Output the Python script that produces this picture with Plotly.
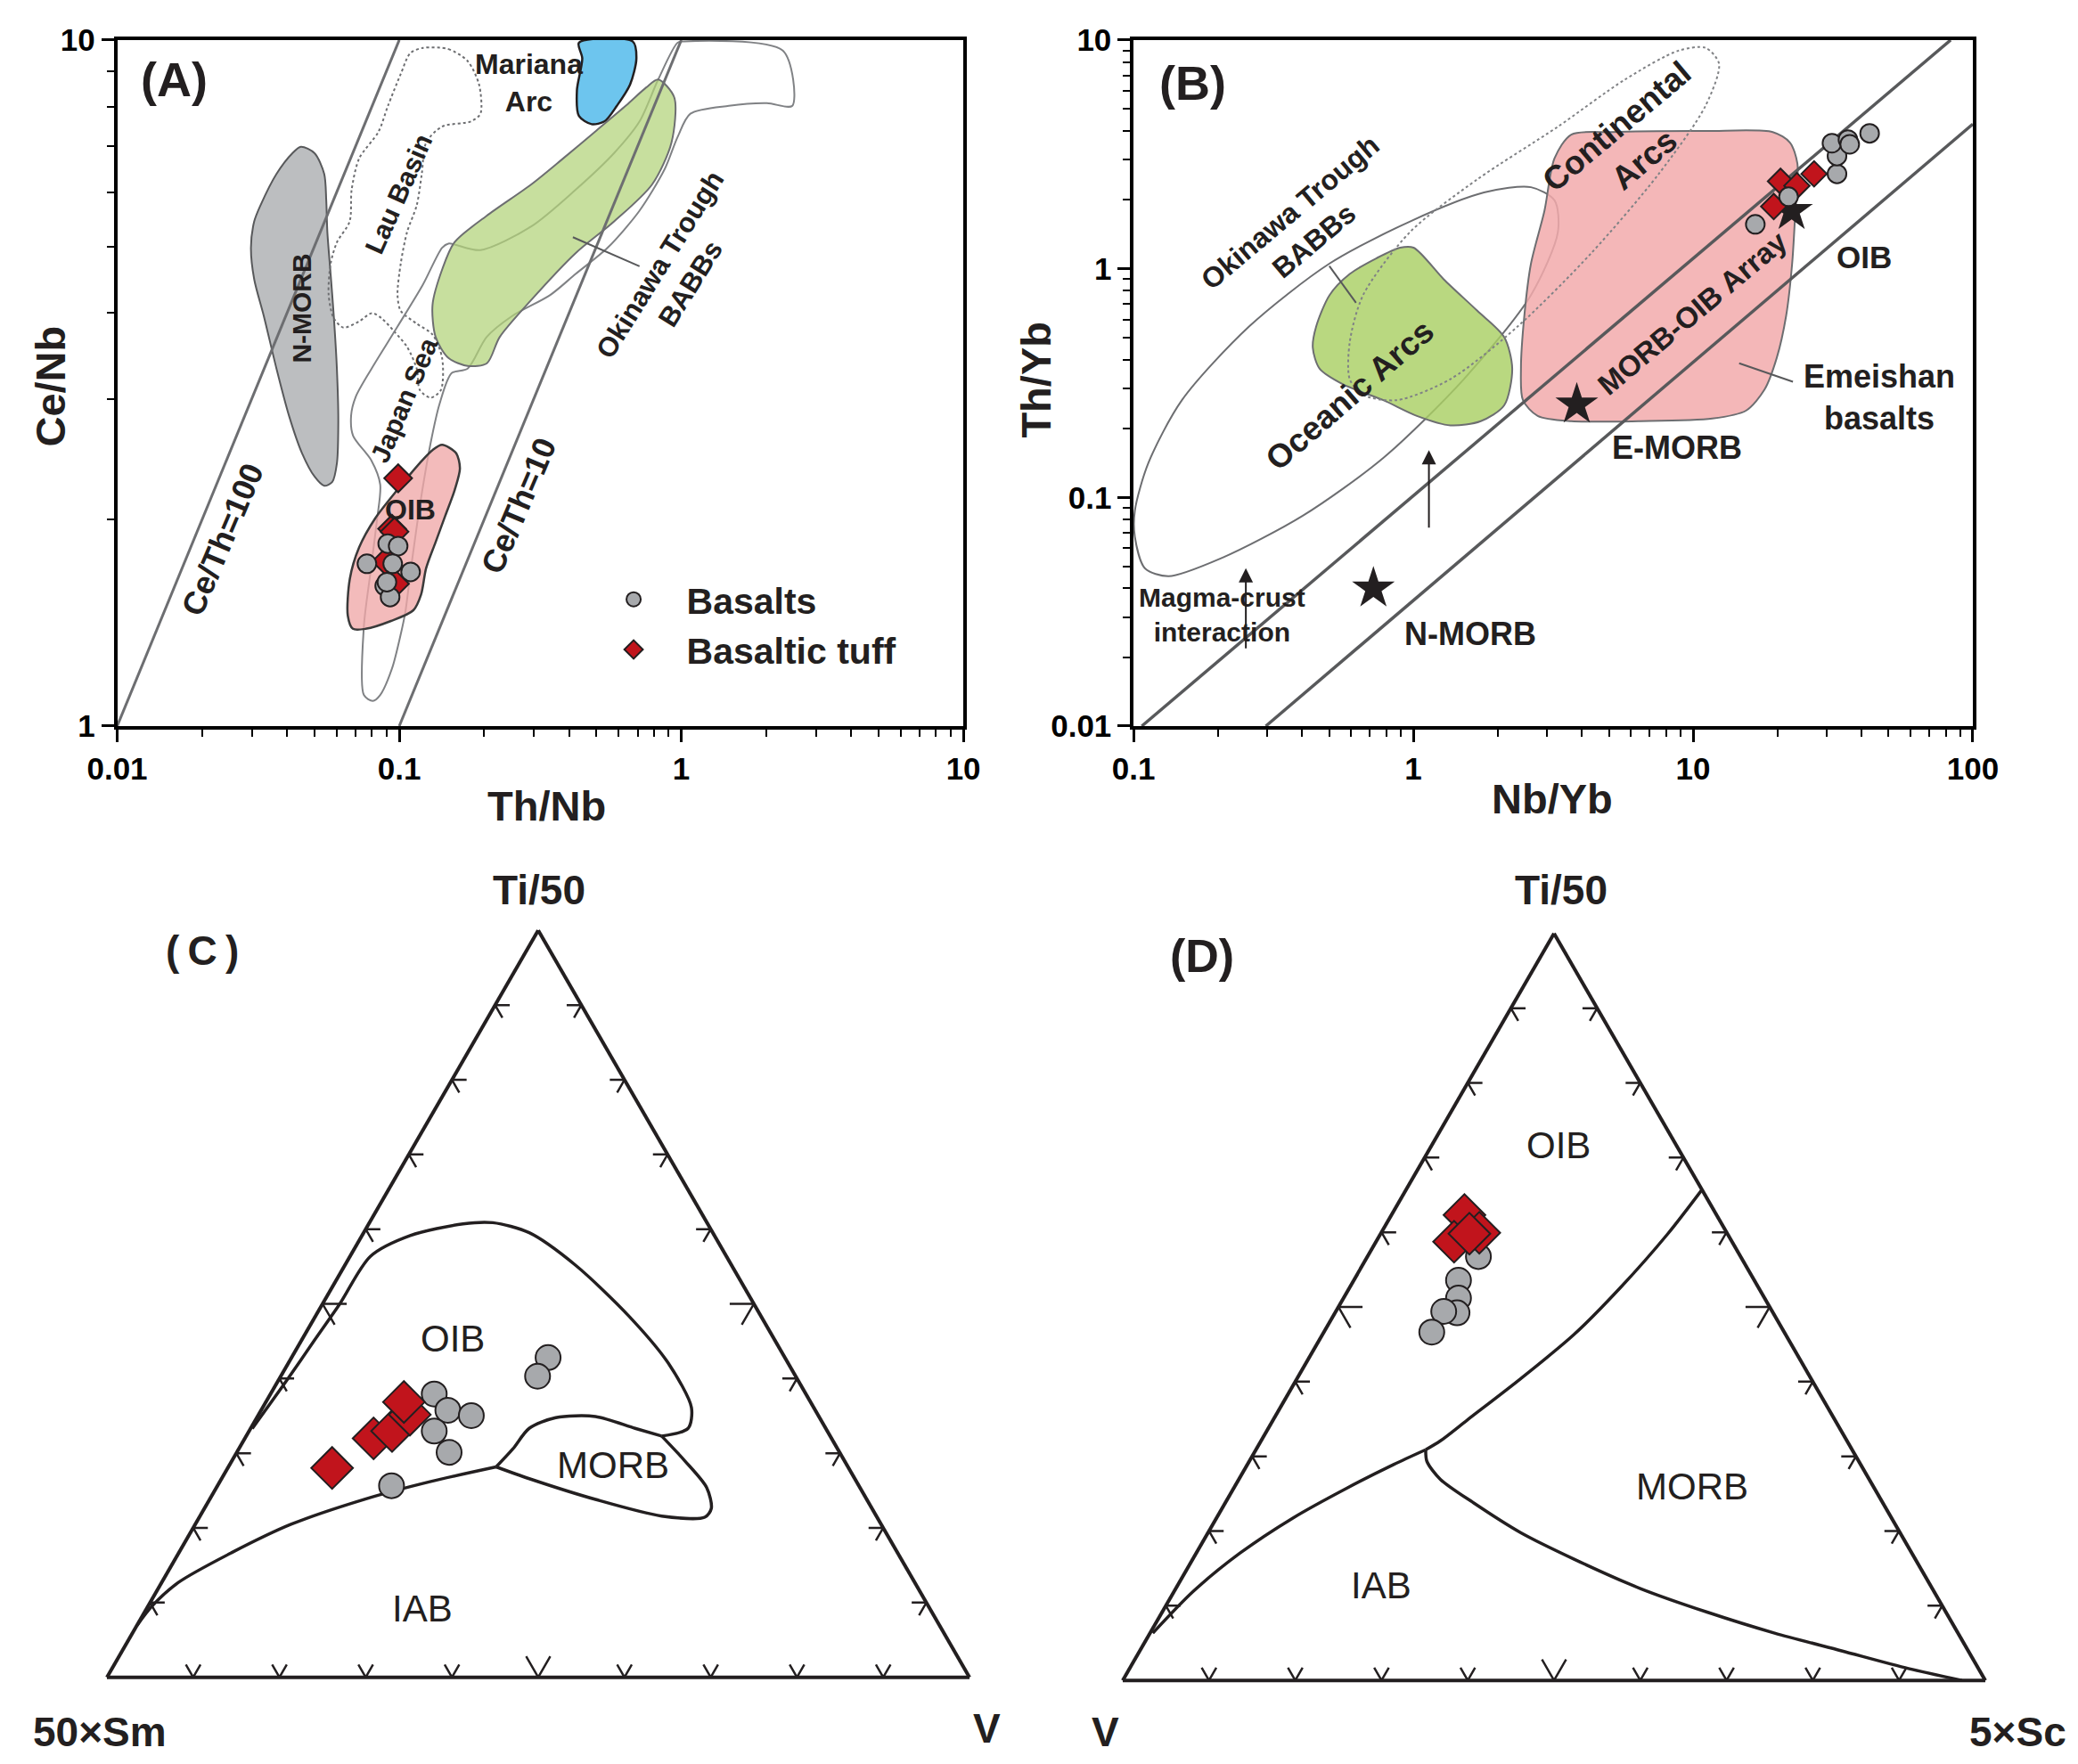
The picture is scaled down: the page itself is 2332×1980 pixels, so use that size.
import numpy as np
import plotly.graph_objects as go

W, H = 2332, 1980
FN = "Liberation Sans Narrow, Arial Narrow, Liberation Sans, Arial, sans-serif"
FR = "Liberation Sans, Arial, sans-serif"
INK = "#231f20"

# ---------------- Panel A : Th/Nb vs Ce/Nb ----------------
nmorb_a_x = [0.0448, 0.0501, 0.0542, 0.0551, 0.0556, 0.0571, 0.0586, 0.0601, 0.0608, 0.0601, 0.0579, 0.0542,
             0.0501, 0.0452, 0.0407, 0.0367, 0.0331, 0.0306, 0.0298, 0.0306, 0.0322, 0.0367, 0.0418]
nmorb_a_y = [6.99, 6.84, 6.38, 5.84, 5.25, 4.56, 3.96, 3.32, 2.78, 2.415, 2.27, 2.24,
             2.31, 2.50, 2.83, 3.32, 3.96, 4.48, 4.98, 5.44, 5.74, 6.38, 6.84]
lau_x = [0.1214, 0.1495, 0.1747, 0.1919, 0.1940, 0.1794, 0.1419, 0.1246, 0.1202, 0.1153, 0.1066, 0.1012, 0.0986,
         0.1012, 0.1153, 0.1313, 0.1419, 0.1405, 0.1292, 0.1183, 0.1153, 0.1066, 0.0960, 0.0866, 0.0801, 0.0721,
         0.0634, 0.0586, 0.0562, 0.0571, 0.0601, 0.0667, 0.0678, 0.0721, 0.0844, 0.0912, 0.1012, 0.1094]
lau_y = [9.74, 9.70, 9.32, 8.61, 7.81, 7.61, 7.48, 7.09, 6.38, 5.74, 5.25, 4.72, 4.25,
         4.03, 3.86, 3.72, 3.44, 3.09, 3.01, 3.09, 3.32, 3.57, 3.76, 3.93, 4.00, 3.89,
         3.81, 3.93, 4.25, 4.72, 5.07, 5.44, 6.05, 6.72, 7.35, 8.02, 8.92, 9.57]
japan_x = [0.0806, 0.0749, 0.0749, 0.079, 0.0834, 0.0856, 0.0796, 0.0686, 0.0675, 0.0701, 0.0798, 0.0985,
           0.1213, 0.1419, 0.1494, 0.1938, 0.2938, 0.4218, 0.577, 0.711, 0.828, 0.970, 1.023, 2.290, 2.476,
           2.012, 1.474, 1.077, 0.970, 0.874, 0.711, 0.548, 0.4218, 0.343, 0.2513, 0.204, 0.1748, 0.1534,
           0.139, 0.1293, 0.1182, 0.1095, 0.1051, 0.1015, 0.0943, 0.0856]
japan_y = [1.088, 1.110, 1.396, 1.672, 2.00, 2.25, 2.44, 2.65, 2.835, 3.02, 3.32, 3.82,
           4.40, 4.98, 5.05, 4.94, 5.35, 6.05, 6.84, 7.61, 8.76, 9.91, 9.955, 9.65, 8.02,
           8.09, 8.02, 7.81, 7.22, 6.49, 5.64, 4.98, 4.56, 4.25, 3.96, 3.69, 3.32, 3.27,
           2.95, 2.59, 2.09, 1.672, 1.467, 1.368, 1.214, 1.110]
mariana_x = [0.4335, 0.673, 0.693, 0.658, 0.591, 0.534, 0.481, 0.4335, 0.4265, 0.4455]
mariana_y = [9.91, 9.95, 9.40, 8.61, 8.02, 7.61, 7.54, 7.75, 8.45, 9.40]
okinawa_a_x = [0.828, 0.944, 0.923, 0.788, 0.578, 0.4218, 0.2938, 0.227, 0.2046, 0.1748, 0.1494, 0.1346,
               0.1312, 0.1422, 0.1568, 0.2036, 0.2938, 0.381, 0.494, 0.6376, 0.751]
okinawa_a_y = [8.76, 8.25, 7.09, 6.16, 5.44, 4.89, 4.18, 3.69, 3.38, 3.35, 3.44, 3.69,
               4.11, 4.64, 5.07, 5.54, 6.16, 6.72, 7.35, 8.03, 8.53]
oib_a_x = [0.1419, 0.159, 0.1641, 0.1573, 0.1456, 0.1346, 0.1245, 0.1195, 0.1122, 0.0935, 0.076, 0.0685,
           0.0657, 0.0668, 0.0721, 0.0821, 0.0985, 0.1182, 0.1312]
oib_a_y = [2.57, 2.50, 2.375, 2.21, 2.026, 1.855, 1.698, 1.555, 1.475, 1.423, 1.386, 1.386,
           1.449, 1.639, 1.822, 2.007, 2.21, 2.417, 2.525]
cth100_x, cth100_y = [0.01, 0.1], [1, 10]
cth10_x, cth10_y = [0.1, 1], [1, 10]
leader_a_x, leader_a_y = [0.4127, 0.711], [5.16, 4.68]
bas_a_x = [0.0910, 0.0991, 0.0768, 0.0948, 0.1097, 0.0888, 0.0928, 0.0904]
bas_a_y = [1.845, 1.830, 1.724, 1.724, 1.678, 1.601, 1.542, 1.621]
tuff_a_x = [0.0991, 0.0943, 0.0962, 0.0899, 0.0966]
tuff_a_y = [2.297, 1.939, 1.92, 1.738, 1.612]

# ---------------- Panel B : Nb/Yb vs Th/Yb ----------------
ell_x = [0.1011, 0.1099, 0.1333, 0.2074, 0.4025, 0.781, 1.516, 2.634, 3.287, 3.197, 2.634, 1.789, 0.974,
         0.502, 0.2587, 0.1489, 0.1129, 0.1011]
ell_y = [0.0672, 0.0489, 0.0452, 0.0544, 0.0831, 0.1488, 0.329, 0.767, 1.448, 1.99, 2.272, 2.154, 1.61,
         1.054, 0.5586, 0.2662, 0.1411, 0.0876]
cont_x = [0.5925, 0.6616, 0.8723, 1.357, 2.359, 4.332, 7.53, 11.08, 12.38, 11.08, 8.89, 5.711, 3.287,
          1.693, 0.974, 0.6616, 0.5925]
cont_y = [0.329, 0.2807, 0.2662, 0.329, 0.5586, 1.172, 2.593, 5.16, 7.88, 9.24, 8.995, 6.72, 4.18,
          2.459, 1.448, 0.767, 0.4767]
ocean_x = [0.897, 1.002, 1.284, 1.693, 2.112, 2.257, 2.112, 1.741, 1.357, 1.030, 0.781, 0.5607, 0.462,
           0.4372, 0.4495, 0.502, 0.5925, 0.739]
ocean_y = [1.236, 1.236, 0.8995, 0.6549, 0.5025, 0.3659, 0.2525, 0.2154, 0.2065, 0.2272, 0.2662, 0.312,
           0.3659, 0.4519, 0.5586, 0.767, 0.9484, 1.112]
emei_x = [3.67, 5.112, 11.08, 19.26, 22.2, 23.6, 23.2, 22.6, 21.5, 19.9, 18.0, 15.44, 11.71, 6.378,
          3.67, 2.784, 2.465, 2.425, 2.493, 2.634, 2.942, 3.197]
emei_y = [3.86, 3.96, 4.00, 3.96, 3.56, 2.88, 1.79, 1.054, 0.621, 0.4067, 0.2961, 0.2394, 0.2212, 0.2154,
          0.2154, 0.2272, 0.2662, 0.3659, 0.621, 1.054, 1.79, 3.04]
arr_up_x, arr_up_y = [0.107, 83.3], [0.01, 10]
arr_lo_x, arr_lo_y = [0.297, 100], [0.01, 4.29]
star_x = [0.72, 3.84, 22.5]
star_y = [0.04, 0.255, 1.79]
leader_b1_x, leader_b1_y = [0.501, 0.624], [1.027, 0.709]
leader_b2_x, leader_b2_y = [14.61, 22.75], [0.3858, 0.3205]
arrow1_x, arrow1_tail_y, arrow1_head_y = 0.252, 0.0216, 0.049
arrow2_x, arrow2_tail_y, arrow2_head_y = 1.137, 0.0728, 0.161
bas_b_x = [16.69, 21.94, 32.69, 32.69, 31.36, 35.77, 36.3, 42.76]
bas_b_y = [1.563, 2.064, 2.599, 3.11, 3.54, 3.67, 3.50, 3.91]
tuff_b_x = [20.54, 23.50, 27.07, 19.42]
tuff_b_y = [2.412, 2.307, 2.599, 1.871]

# ---------------- Panel C : Ti/50 - 50xSm - V ----------------
c_oib_a = [0.333, 0.40, 0.452, 0.50, 0.5635, 0.5913, 0.6071, 0.6087, 0.5952, 0.5516, 0.4841, 0.4206, 0.3611, 0.3333, 0.323]
c_oib_b = [0.665, 0.59, 0.533, 0.48, 0.4128, 0.3528, 0.2836, 0.2483, 0.2128, 0.1808, 0.1532, 0.1389, 0.1418, 0.1596, 0.1954]
c_oib_c = [0.002, 0.01, 0.015, 0.02, 0.0237, 0.0559, 0.1093, 0.143, 0.192, 0.2676, 0.3627, 0.4405, 0.4971, 0.5071, 0.4816]
c_morb_lo_a = [0.323, 0.2897, 0.254, 0.2262, 0.2143, 0.2159, 0.2381, 0.2659, 0.2817]
c_morb_lo_b = [0.1954, 0.1851, 0.1777, 0.1862, 0.1998, 0.2489, 0.3145, 0.3774, 0.4079]
c_morb_lo_c = [0.4816, 0.5252, 0.5683, 0.5876, 0.5859, 0.5352, 0.4474, 0.3567, 0.3104]
c_morb_up_a = [0.2817, 0.3056, 0.3333, 0.3476, 0.3492, 0.3333, 0.323]
c_morb_up_b = [0.4079, 0.3767, 0.3438, 0.3059, 0.259, 0.221, 0.1954]
c_morb_up_c = [0.3104, 0.3177, 0.3229, 0.3465, 0.3918, 0.4457, 0.4816]
c_iab_a = [0.2817, 0.2619, 0.2381, 0.2048, 0.1667, 0.127, 0.0952, 0.0698]
c_iab_b = [0.4079, 0.4946, 0.5831, 0.6842, 0.7723, 0.8536, 0.9002, 0.93]
c_iab_c = [0.3104, 0.2435, 0.1788, 0.111, 0.061, 0.0194, 0.0046, 0.0002]
c_bas_a = [0.4281, 0.4031, 0.3793, 0.3575, 0.3504, 0.3297, 0.3012, 0.2565]
c_bas_b = [0.2745, 0.2992, 0.4309, 0.426, 0.4024, 0.4557, 0.4527, 0.5418]
c_bas_c = [0.2974, 0.2977, 0.1898, 0.2165, 0.2473, 0.2146, 0.2461, 0.2017]
c_tuff_a = [0.2803, 0.3199, 0.3297, 0.3516, 0.3686]
c_tuff_b = [0.5988, 0.5309, 0.5046, 0.473, 0.4714]
c_tuff_c = [0.1209, 0.1492, 0.1657, 0.1754, 0.16]

# ---------------- Panel D : Ti/50 - V - 5xSc ----------------
d_om_a = [0.657, 0.5978, 0.5265, 0.4632, 0.4038, 0.3484, 0.3207, 0.3088]
d_om_b = [0.0, 0.0693, 0.1593, 0.2451, 0.3369, 0.4266, 0.4714, 0.4944]
d_om_c = [0.343, 0.3329, 0.3142, 0.2917, 0.2593, 0.225, 0.2079, 0.1968]
d_iab_a = [0.0633, 0.1188, 0.1702, 0.2177, 0.2573, 0.289, 0.3088]
d_iab_b = [0.9335, 0.8592, 0.7792, 0.6935, 0.6117, 0.5415, 0.4944]
d_iab_c = [0.0032, 0.022, 0.0506, 0.0888, 0.131, 0.1695, 0.1968]
d_im_a = [0.3088, 0.293, 0.2692, 0.2375, 0.1979, 0.1623, 0.1227, 0.0911, 0.0633, 0.0396, 0.0158, 0.0]
d_im_b = [0.4944, 0.5008, 0.4972, 0.4743, 0.4399, 0.3956, 0.3379, 0.2762, 0.2126, 0.1469, 0.0812, 0.0271]
d_im_c = [0.1968, 0.2062, 0.2336, 0.2882, 0.3622, 0.4421, 0.5394, 0.6327, 0.7241, 0.8135, 0.903, 0.9729]
d_bas_a = [0.5675, 0.5357, 0.5119, 0.4921, 0.494, 0.4663]
d_bas_b = [0.3039, 0.3429, 0.3548, 0.3664, 0.3809, 0.4086]
d_bas_c = [0.1286, 0.1214, 0.1333, 0.1415, 0.1251, 0.1251]
d_tuff_a = [0.6231, 0.5874, 0.5993, 0.5973]
d_tuff_b = [0.2923, 0.3222, 0.287, 0.2987]
d_tuff_c = [0.0846, 0.0904, 0.1137, 0.1027]

# ternary tick positions (fraction along each side) and chevron lengths
tern_ticks = [0.1, 0.2, 0.3, 0.4, 0.5, 0.6, 0.7, 0.8, 0.9]
tick_len_small, tick_len_mid = 0.017, 0.028

GRAY_PT = "#a7a9ac"
RED_PT = "#c1141c"


def closed(v):
    return list(v) + [v[0]]


fig = go.Figure()


def poly(x, y, ax, fill=None, line="#6d6e71", width=2.2, dash="solid"):
    fig.add_trace(go.Scatter(
        x=closed(x), y=closed(y), mode="lines", xaxis=ax[0], yaxis=ax[1],
        fill="toself" if fill else None, fillcolor=fill,
        line=dict(color=line, width=width, dash=dash, shape="spline", smoothing=0.8),
        hoverinfo="skip", showlegend=False))


def line(x, y, ax, color="#6d6e71", width=3):
    fig.add_trace(go.Scatter(x=x, y=y, mode="lines", xaxis=ax[0], yaxis=ax[1],
                             line=dict(color=color, width=width), hoverinfo="skip", showlegend=False))


A = ("x", "y")
B = ("x2", "y2")

# Panel A fields
poly(nmorb_a_x, nmorb_a_y, A, fill="#bcbec0", line="#58595b", width=2)
poly(lau_x, lau_y, A, line="#6d6e71", width=2, dash="dot")
poly(japan_x, japan_y, A, line="#808285", width=2)
poly(mariana_x, mariana_y, A, fill="#6dc5ee", line=INK, width=2.5)
poly(okinawa_a_x, okinawa_a_y, A, fill="rgba(178,210,120,0.72)", line="#6d6e71", width=2)
poly(oib_a_x, oib_a_y, A, fill="rgba(240,168,168,0.78)", line="#3a3a3a", width=2.5)
line(cth100_x, cth100_y, A)
line(cth10_x, cth10_y, A)
line(leader_a_x, leader_a_y, A, color="#58595b", width=2)

mk_c = dict(symbol="circle", size=21, color=GRAY_PT, line=dict(color=INK, width=2))
mk_d = dict(symbol="diamond", size=24, color=RED_PT, line=dict(color=INK, width=2))
fig.add_trace(go.Scatter(x=tuff_a_x, y=tuff_a_y, mode="markers", xaxis="x", yaxis="y", marker=mk_d,
                         name="Basaltic tuff", legendrank=2, showlegend=True))
fig.add_trace(go.Scatter(x=bas_a_x, y=bas_a_y, mode="markers", xaxis="x", yaxis="y", marker=mk_c,
                         name="Basalts", legendrank=1, showlegend=True))

# Panel B fields
poly(ell_x, ell_y, B, line="#6d6e71", width=2)
poly(ocean_x, ocean_y, B, fill="rgba(170,208,100,0.82)", line="#6d6e71", width=2)
poly(emei_x, emei_y, B, fill="rgba(242,170,172,0.85)", line="#6d6e71", width=2)
poly(cont_x, cont_y, B, line="#808285", width=2, dash="dot")
line(arr_up_x, arr_up_y, B, color="#58595b", width=3.5)
line(arr_lo_x, arr_lo_y, B, color="#58595b", width=3.5)
line(leader_b1_x, leader_b1_y, B, color="#58595b", width=2)
line(leader_b2_x, leader_b2_y, B, color="#58595b", width=2)
fig.add_trace(go.Scatter(x=star_x, y=star_y, mode="markers", xaxis="x2", yaxis="y2",
                         marker=dict(symbol="star", size=36, color=INK, line=dict(width=0)),
                         hoverinfo="skip", showlegend=False))
fig.add_trace(go.Scatter(x=tuff_b_x, y=tuff_b_y, mode="markers", xaxis="x2", yaxis="y2",
                         marker=dict(mk_d, size=22), showlegend=False))
fig.add_trace(go.Scatter(x=bas_b_x, y=bas_b_y, mode="markers", xaxis="x2", yaxis="y2",
                         marker=mk_c, showlegend=False))


# Ternary chevron ticks (two prongs per tick, along the two grid directions)
def chevrons(sub):
    a, b, c = [], [], []
    for t in tern_ticks:
        L = tick_len_mid if abs(t - 0.5) < 1e-9 else tick_len_small
        # bottom side (a = 0), c = t
        a += [L, 0, L, None]; b += [1 - t, 1 - t, 1 - t - L, None]; c += [t - L, t, t, None]
        # left side (c = 0), a = t
        a += [t, t, t - L, None]; b += [1 - t - L, 1 - t, 1 - t, None]; c += [L, 0, L, None]
        # right side (b = 0), a = t
        a += [t, t, t - L, None]; b += [L, 0, L, None]; c += [1 - t - L, 1 - t, 1 - t, None]
    fig.add_trace(go.Scatterternary(a=a, b=b, c=c, mode="lines", subplot=sub, connectgaps=False,
                                    line=dict(color=INK, width=2.5), hoverinfo="skip", showlegend=False))


def tline(a, b, c, sub):
    fig.add_trace(go.Scatterternary(a=a, b=b, c=c, mode="lines", subplot=sub,
                                    line=dict(color=INK, width=3.5, shape="spline", smoothing=0.8),
                                    hoverinfo="skip", showlegend=False))


chevrons("ternary")
tline(c_oib_a, c_oib_b, c_oib_c, "ternary")
tline(c_morb_lo_a, c_morb_lo_b, c_morb_lo_c, "ternary")
tline(c_morb_up_a, c_morb_up_b, c_morb_up_c, "ternary")
tline(c_iab_a, c_iab_b, c_iab_c, "ternary")
mk_tc = dict(symbol="circle", size=28, color=GRAY_PT, line=dict(color=INK, width=2))
mk_td = dict(symbol="diamond", size=36, color=RED_PT, line=dict(color=INK, width=2))
fig.add_trace(go.Scatterternary(a=c_bas_a, b=c_bas_b, c=c_bas_c, mode="markers", subplot="ternary",
                                marker=mk_tc, showlegend=False))
fig.add_trace(go.Scatterternary(a=c_tuff_a, b=c_tuff_b, c=c_tuff_c, mode="markers", subplot="ternary",
                                marker=mk_td, showlegend=False))

chevrons("ternary2")
tline(d_om_a, d_om_b, d_om_c, "ternary2")
tline(d_iab_a, d_iab_b, d_iab_c, "ternary2")
tline(d_im_a, d_im_b, d_im_c, "ternary2")
fig.add_trace(go.Scatterternary(a=d_bas_a, b=d_bas_b, c=d_bas_c, mode="markers", subplot="ternary2",
                                marker=mk_tc, showlegend=False))
fig.add_trace(go.Scatterternary(a=d_tuff_a, b=d_tuff_b, c=d_tuff_c, mode="markers", subplot="ternary2",
                                marker=mk_td, showlegend=False))

# ---------------- Layout ----------------
tickfont = dict(size=35, family=FN, color="black", weight="bold")


def logaxis(domain, rng, tv, tt, anchor):
    lo, hi = rng
    minor_vals = [m * 10.0 ** k for k in range(lo, hi) for m in range(2, 10)]
    return dict(domain=domain, type="log", range=[lo, hi], anchor=anchor,
                tickmode="array", tickvals=tv, ticktext=tt,
                ticks="outside", ticklen=14, tickwidth=3, tickcolor="black",
                minor=dict(tickmode="array", tickvals=minor_vals, ticks="outside", ticklen=8,
                           tickwidth=2, tickcolor="black", showgrid=False),
                showline=True, linecolor="black", linewidth=3.5, mirror=True,
                showgrid=False, zeroline=False, tickfont=tickfont, automargin=False)


def taxis():
    return dict(title=dict(text=""), showticklabels=False, ticks="", linecolor=INK, linewidth=4,
                showgrid=False, min=0)


layout = dict(
    width=W, height=H, margin=dict(l=0, r=0, t=0, b=0),
    paper_bgcolor="white", plot_bgcolor="white",
    xaxis=logaxis([0.0564, 0.4636], (-2, 1), [0.01, 0.1, 1, 10], ["0.01", "0.1", "1", "10"], "y"),
    yaxis=logaxis([0.5884, 0.9773], (0, 1), [1, 10], ["1", "10"], "x"),
    xaxis2=logaxis([0.5455, 0.9494], (-1, 2), [0.1, 1, 10, 100], ["0.1", "1", "10", "100"], "y2"),
    yaxis2=logaxis([0.5884, 0.9773], (-2, 1), [0.01, 0.1, 1, 10], ["0.01", "0.1", "1", "10"], "x2"),
    ternary=dict(domain=dict(x=[0.05146, 0.46655], y=[0.04848, 0.47323]), sum=1, bgcolor="white",
                 aaxis=taxis(), baxis=taxis(), caxis=taxis()),
    ternary2=dict(domain=dict(x=[0.5403, 0.9554], y=[0.0470, 0.4712]), sum=1, bgcolor="white",
                  aaxis=taxis(), baxis=taxis(), caxis=taxis()),
    legend=dict(x=0.2794, y=0.677, xanchor="left", yanchor="top", bgcolor="rgba(0,0,0,0)",
                font=dict(size=41, family=FN, color=INK, weight="bold"), itemwidth=109, tracegroupgap=0),
    showlegend=True,
)
fig.update_layout(**layout)

anns = []


def ann(text, fx, fy, xr, yr, size, angle=0, family=FN, bold=True, color=INK):
    anns.append(dict(text=text, x=fx, y=fy, xref=xr, yref=yr, showarrow=False, textangle=angle,
                     xanchor="center", yanchor="middle",
                     font=dict(size=size, family=family, color=color, weight="bold" if bold else "normal")))


AX, AY = "x domain", "y domain"
BX, BY = "x2 domain", "y2 domain"
P = "paper"
# axis titles
ann("Th/Nb", 0.2629, 0.5432, P, P, 47)
ann("Ce/Nb", 0.0244, 0.781, P, P, 47, -90)
ann("Nb/Yb", 0.7469, 0.547, P, P, 47)
ann("Th/Yb", 0.4985, 0.7848, P, P, 47, -90)

ann("(A)", 0.0677, 0.9425, AX, AY, 54, family=FR)
ann("Mariana<br>Arc", 0.4863, 0.9371, AX, AY, 32)
ann("Lau Basin", 0.3328, 0.7755, AX, AY, 30, -66)
ann("N-MORB", 0.2183, 0.6093, AX, AY, 30, -90)
ann("Japan Sea", 0.3386, 0.4751, AX, AY, 30, -67)
ann("Okinawa Trough<br>BABBs", 0.6594, 0.659, AX, AY, 31, -58)
ann("OIB", 0.3463, 0.3157, AX, AY, 32)
ann("Ce/Th=100", 0.1243, 0.2722, AX, AY, 36, -67)
ann("Ce/Th=10", 0.4742, 0.3219, AX, AY, 36, -67)

ann("(B)", 0.070, 0.938, BX, BY, 54, family=FR)
ann("Continental<br>Arcs", 0.592, 0.85, BX, BY, 37, -40)
ann("Okinawa Trough<br>BABBs", 0.2016, 0.728, BX, BY, 32, -40)
ann("Oceanic Arcs", 0.2576, 0.4827, BX, BY, 37, -41)
ann("MORB-OIB Array", 0.6656, 0.6016, BX, BY, 33, -40)
ann("OIB", 0.871, 0.684, BX, BY, 35)
ann("Emeishan<br>basalts", 0.888, 0.479, BX, BY, 36)
ann("E-MORB", 0.6476, 0.406, BX, BY, 36)
ann("N-MORB", 0.4016, 0.134, BX, BY, 36)
ann("Magma-crust<br>interaction", 0.1056, 0.162, BX, BY, 30)

# arrows in panel B (log axes take log10 positions)
for xa, yt, yh in [(arrow1_x, arrow1_tail_y, arrow1_head_y), (arrow2_x, arrow2_tail_y, arrow2_head_y)]:
    anns.append(dict(x=np.log10(xa), y=np.log10(yh), ax=np.log10(xa), ay=np.log10(yt),
                     xref="x2", yref="y2", axref="x2", ayref="y2", text="", showarrow=True,
                     arrowhead=2, arrowsize=1.6, arrowwidth=2, arrowcolor=INK))

# ternary labels
ann("Ti/50", 0.2596, 0.4956, P, P, 46, family=FR)
ann("50×Sm", 0.048, 0.0184, P, P, 46, family=FR)
ann("V", 0.475, 0.020, P, P, 46, family=FR)
ann("(\u2009C\u2009)", 0.0974, 0.4609, P, P, 46, family=FR)
ann("OIB", 0.218, 0.2412, P, P, 42, family=FR, bold=False)
ann("MORB", 0.2949, 0.1694, P, P, 42, family=FR, bold=False)
ann("IAB", 0.2032, 0.0879, P, P, 42, family=FR, bold=False)

ann("Ti/50", 0.7513, 0.4956, P, P, 46, family=FR)
ann("V", 0.532, 0.0184, P, P, 46, family=FR)
ann("5×Sc", 0.9712, 0.0184, P, P, 46, family=FR)
ann("(D)", 0.5783, 0.4579, P, P, 52, family=FR)
ann("OIB", 0.75, 0.3507, P, P, 42, family=FR, bold=False)
ann("MORB", 0.8142, 0.1574, P, P, 42, family=FR, bold=False)
ann("IAB", 0.6647, 0.1015, P, P, 42, family=FR, bold=False)

fig.update_layout(annotations=anns)
fig.write_html("out.html", config={"displayModeBar": False},
               post_script="document.body.style.margin='0px';")
